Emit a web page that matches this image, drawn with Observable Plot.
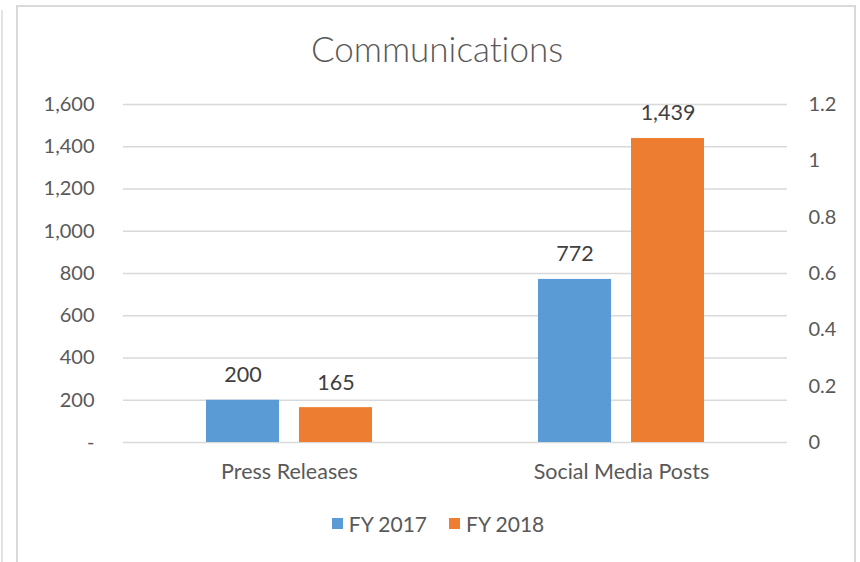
<!DOCTYPE html>
<html><head><meta charset="utf-8">
<script src="https://cdn.jsdelivr.net/npm/d3@7"></script>
<script src="https://cdn.jsdelivr.net/npm/@observablehq/plot@0.6"></script>
<style>
body{margin:0;background:#fff;font-family:Lato,"Open Sans",sans-serif;}
#wrap{position:relative;width:860px;height:562px;overflow:hidden;background:#fff;}
#frame{position:absolute;left:16px;top:5px;width:836px;height:600px;border:2px solid #d9d9d9;}
#edge{position:absolute;left:1px;top:10px;width:2px;height:560px;background:#e3e3e3;}
#title{position:absolute;left:16px;width:842px;top:27px;text-align:center;font-size:35px;font-weight:300;color:#595959;font-variant-ligatures:none;}
#chart{position:absolute;left:0;top:0;}
#legend{position:absolute;top:511px;left:0;width:860px;display:flex;justify-content:center;gap:22px;font-size:21px;color:#595959;padding-left:16px;box-sizing:border-box;}
#legend .item{display:flex;align-items:center;gap:6px;}
#legend .sw{width:11px;height:11px;display:inline-block;}
</style></head>
<body>
<div id="wrap">
  <div id="edge"></div>
  <div id="frame"></div>
  <div id="chart"></div>
  <div id="title">Communications</div>
  <div id="legend"></div>
</div>
<script>
const categories = ["Press Releases", "Social Media Posts"];
const series = ["FY 2017", "FY 2018"];
const fy2017 = [200, 772];
const fy2018 = [165, 1439];
const colors = ["#5B9BD5", "#ED7D31"];
const leftTicks = [0, 200, 400, 600, 800, 1000, 1200, 1400, 1600];
const leftTickLabels = ["-", "200", "400", "600", "800", "1,000", "1,200", "1,400", "1,600"];
const rightTicks = [0, 0.2, 0.4, 0.6, 0.8, 1, 1.2];
const rightTickLabels = ["0", "0.2", "0.4", "0.6", "0.8", "1", "1.2"];
const yMax = 1600, rightMax = 1.2;

const data = [];
categories.forEach((c, i) => {
  data.push({category: c, series: series[0], value: fy2017[i]});
  data.push({category: c, series: series[1], value: fy2018[i]});
});

const leftMap = new Map(leftTicks.map((t, i) => [t, leftTickLabels[i]]));
const rightPos = rightTicks.map(v => v * yMax / rightMax);
const rightMap = new Map(rightPos.map((p, i) => [p, rightTickLabels[i]]));

const font = "Lato, 'Open Sans', sans-serif";

const chart = Plot.plot({
  width: 860,
  height: 500,
  marginTop: 104,
  marginBottom: 58,
  marginLeft: 122,
  marginRight: 73,
  style: {fontFamily: font, background: "transparent", color: "#595959"},
  fx: {domain: categories, padding: 0},
  x: {domain: series, paddingInner: 0.2128, paddingOuter: 0.875, axis: null},
  y: {domain: [0, yMax]},
  color: {domain: series, range: colors},
  marks: [
    Plot.ruleY(leftTicks, {stroke: "#d9d9d9", strokeWidth: 1.5}),
    Plot.barY(data, {fx: "category", x: "series", y: "value", fill: "series"}),
    Plot.text(data, {fx: "category", x: "series", y: "value", text: d => d3.format(",")(d.value), dy: -25, fontSize: 21.5, fill: "#404040", fontFamily: font}),
    Plot.axisY(leftTicks, {anchor: "left", tickSize: 0, tickPadding: 29, fontSize: 20, fill: "#595959", label: null, tickFormat: d => leftMap.get(d)}),
    Plot.axisY(rightPos, {anchor: "right", tickSize: 0, tickPadding: 21, fontSize: 20, fill: "#595959", label: null, tickFormat: d => rightMap.get(d)}),
    Plot.axisFx({anchor: "bottom", tickSize: 0, tickPadding: 21, fontSize: 21.5, fill: "#595959", label: null})
  ]
});
document.getElementById("chart").appendChild(chart);

const legend = document.getElementById("legend");
series.forEach((s, i) => {
  const it = document.createElement("div");
  it.className = "item";
  const sw = document.createElement("span");
  sw.className = "sw";
  sw.style.background = colors[i];
  const tx = document.createElement("span");
  tx.textContent = s;
  it.appendChild(sw); it.appendChild(tx);
  legend.appendChild(it);
});
</script>
</body></html>
